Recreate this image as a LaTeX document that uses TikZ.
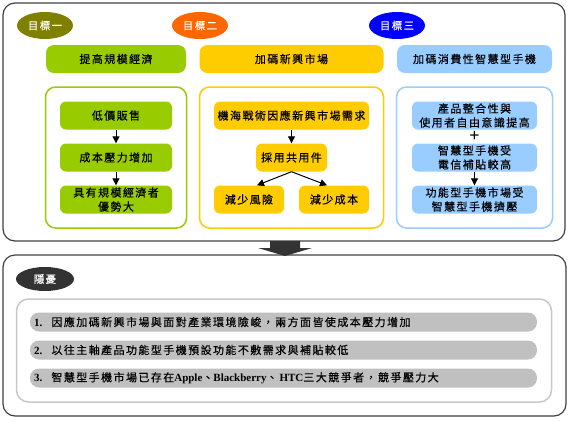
\documentclass[tikz,border=0pt]{standalone}
\usepackage{fontspec}
\setmainfont{Liberation Serif}
\newfontfamily\cjk{Noto Sans CJK TC}[LetterSpace=13,FakeBold=0.4]
\usetikzlibrary{shapes.geometric,arrows.meta}
\definecolor{cOlive}{HTML}{808000}
\definecolor{cOrange}{HTML}{FF6600}
\definecolor{cBlue}{HTML}{0000FF}
\definecolor{cGreen}{HTML}{99CC00}
\definecolor{cYellow}{HTML}{FFCC00}
\definecolor{cLBlue}{HTML}{99CCFF}
\definecolor{cDark}{HTML}{333333}
\definecolor{cBar}{HTML}{C0C0C0}
\definecolor{cFrame}{HTML}{C8C8C8}
\definecolor{cBorder}{HTML}{404040}
\tikzset{
  goal/.style={ellipse,minimum width=56pt,minimum height=27pt,inner sep=0pt,text=white,font=\fontsize{10.5}{12}\selectfont\cjk},
  outerbox/.style={draw=cBorder,line width=1.2pt,rounded corners=12pt},
  hdr/.style={rounded corners=8pt,minimum height=28pt,inner sep=0pt,font=\fontsize{11}{13}\selectfont\cjk},
  frm/.style={line width=1.5pt,rounded corners=10pt,fill=white},
  inbox/.style={rounded corners=6pt,minimum height=28pt,inner sep=0pt,align=center,font=\fontsize{11}{14}\selectfont\cjk},
  conn/.style={-{Triangle[length=7pt,width=7pt]},line width=1pt,black},
  bar/.style={fill=cBar,rounded corners=9pt,minimum height=19pt,minimum width=507pt,inner sep=0pt},
  bartext/.style={anchor=west,inner sep=0pt,text=black,font=\fontsize{11}{12}\selectfont},
}
\newcommand{\lat}[1]{{\fontsize{11}{12}\selectfont\bfseries #1}}
\begin{document}
\begin{tikzpicture}[x=1pt,y=-1pt]
\useasboundingbox (0,0) rectangle (570,421);
% outer boxes
\node[outerbox,minimum width=562pt,minimum height=238pt] (top) at (284,122) {};
\node[outerbox,minimum width=563pt,minimum height=161pt] (bot) at (284.5,335.5) {};
% big arrow between boxes
\fill[cDark] (270,241) -- (300,241) -- (300,248) -- (312,248) -- (285,256) -- (258,248) -- (270,248) -- cycle;
% goal ellipses
\node[goal,fill=cOlive] (g1) at (45,25.5) {目標一};
\node[goal,fill=cOrange] (g2) at (200,25.5) {目標二};
\node[goal,fill=cBlue] (g3) at (397,25.5) {目標三};
% headers
\node[hdr,fill=cGreen,minimum width=140pt] (h1) at (116,59) {提高規模經濟};
\node[hdr,fill=cYellow,minimum width=184pt] (h2) at (291.5,59) {加碼新興市場};
\node[hdr,fill=cLBlue,minimum width=155pt] (h3) at (474.5,59) {加碼消費性智慧型手機};
% frames
\node[frm,draw=cGreen,minimum width=141pt,minimum height=141pt] (f1) at (116,157.5) {};
\node[frm,draw=cYellow,minimum width=184pt,minimum height=141pt] (f2) at (291.5,157.5) {};
\node[frm,draw=cLBlue,minimum width=156pt,minimum height=141pt] (f3) at (474.5,157.5) {};
% green column
\node[inbox,fill=cGreen,minimum width=112pt] (a1) at (116,115.5) {低價販售};
\node[inbox,fill=cGreen,minimum width=112pt] (a2) at (116,157.5) {成本壓力增加};
\node[inbox,fill=cGreen,minimum width=112pt] (a3) at (116,199.5) {具有規模經濟者\\優勢大};
\draw[conn] (a1) -- (a2);
\draw[conn] (a2) -- (a3);
% yellow column
\node[inbox,fill=cYellow,minimum width=155pt] (b1) at (291.5,115.5) {機海戰術因應新興市場需求};
\node[inbox,fill=cYellow,minimum width=71pt] (b2) at (291.5,157.5) {採用共用件};
\node[inbox,fill=cYellow,minimum width=70pt] (b3) at (249,199.5) {減少風險};
\node[inbox,fill=cYellow,minimum width=70pt] (b4) at (334,199.5) {減少成本};
\draw[conn] (b1) -- (b2);
\draw[conn] (b2.south) -- ([xshift=8pt]b3.north);
\draw[conn] (b2.south) -- ([xshift=-7pt]b4.north);
% blue column
\node[inbox,fill=cLBlue,minimum width=125pt] (c1) at (474.5,115.5) {產品整合性與\\使用者自由意識提高};
\node[inbox,fill=cLBlue,minimum width=125pt] (c2) at (474.5,157.5) {智慧型手機受\\電信補貼較高};
\node[inbox,fill=cLBlue,minimum width=125pt] (c3) at (474.5,199.5) {功能型手機市場受\\智慧型手機擠壓};
\node[inner sep=0pt,font=\fontsize{18}{18}\selectfont\bfseries] (plus) at (474.5,136) {+};
\draw[conn] (c2) -- (c3);
% bottom part
\node[goal,fill=cDark,minimum width=58pt,minimum height=24pt] (risk) at (45,279) {隱憂};
\node[draw=cFrame,line width=1.5pt,rounded corners=12pt,minimum width=535pt,minimum height=103pt] (gf) at (284,350.5) {};
\node[bar] (r1) at (283.5,322) {};
\node[bar] (r2) at (283.5,350) {};
\node[bar] (r3) at (283.5,378) {};
\node[bartext] (t1) at (34,322) {\lat{1.}\hspace{9pt}{\cjk 因應加碼新興市場與面對產業環境險峻，兩方面皆使成本壓力增加}};
\node[bartext] (t2) at (34,350) {\lat{2.}\hspace{9pt}{\cjk 以往主軸產品功能型手機預設功能不敷需求與補貼較低}};
\node[bartext] (t3) at (34,378) {\lat{3.}\hspace{9pt}{\cjk 智慧型手機市場已存在}\lat{Apple}{\cjk 、}\lat{Blackberry}{\cjk 、}\hspace{2pt}\lat{HTC}{\cjk 三大競爭者，競爭壓力大}};
\end{tikzpicture}
\end{document}
